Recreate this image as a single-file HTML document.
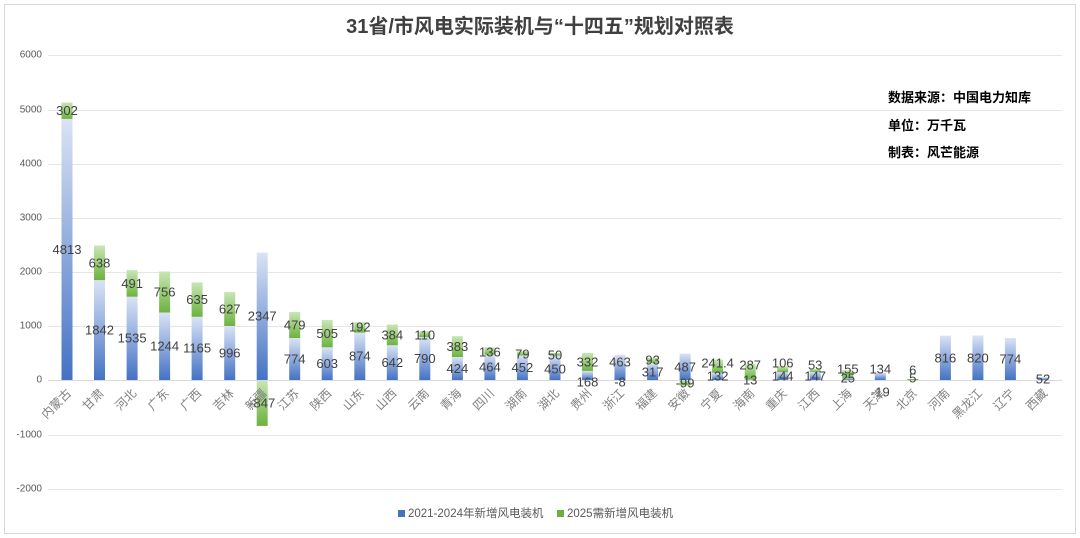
<!DOCTYPE html>
<html><head><meta charset="utf-8"><style>
body{margin:0;background:#fff;}
svg{display:block;font-family:"Liberation Sans","Noto Sans CJK SC",sans-serif;}
.v{font-size:13px;fill:#404040;text-anchor:middle;dominant-baseline:central;}
.y{font-size:10px;fill:#595959;text-anchor:end;dominant-baseline:central;}
.c{font-size:12px;fill:#7f7f7f;text-anchor:end;}
</style></head><body>
<svg width="1080" height="538" viewBox="0 0 1080 538">
<defs>
<linearGradient id="b" x1="0" y1="0" x2="0" y2="1"><stop offset="0" stop-color="#dae3f5"/><stop offset="1" stop-color="#4472c4"/></linearGradient>
<linearGradient id="g" x1="0" y1="0" x2="0" y2="1"><stop offset="0" stop-color="#c9e6b5"/><stop offset="1" stop-color="#6cb33f"/></linearGradient>
</defs>
<rect x="4.5" y="4.5" width="1071" height="529" fill="#fff" stroke="#d9d9d9"/>
<text x="540" y="33" text-anchor="middle" font-size="20" font-weight="bold" fill="#404040">31省/市风电实际装机与“十四五”规划对照表</text>
<g stroke="#e6e6e6" stroke-width="1">
<line x1="48" y1="55.5" x2="1062" y2="55.5"/><line x1="48" y1="110.5" x2="1062" y2="110.5"/><line x1="48" y1="164.5" x2="1062" y2="164.5"/><line x1="48" y1="218.5" x2="1062" y2="218.5"/><line x1="48" y1="272.5" x2="1062" y2="272.5"/><line x1="48" y1="326.5" x2="1062" y2="326.5"/><line x1="48" y1="435.5" x2="1062" y2="435.5"/><line x1="48" y1="489.5" x2="1062" y2="489.5"/>
</g>
<g class="y">
<text x="42" y="55">6000</text><text x="42" y="110">5000</text><text x="42" y="164">4000</text><text x="42" y="218">3000</text><text x="42" y="272">2000</text><text x="42" y="326">1000</text><text x="42" y="380">0</text><text x="42" y="435">-1000</text><text x="42" y="489">-2000</text>
</g>
<g>
<rect x="61.5" y="118.9" width="11" height="261.1" fill="url(#b)"/><rect x="61.5" y="102.5" width="11" height="16.4" fill="url(#g)"/>
<rect x="94" y="280.1" width="11" height="99.9" fill="url(#b)"/><rect x="94" y="245.5" width="11" height="34.6" fill="url(#g)"/>
<rect x="126.6" y="296.7" width="11" height="83.3" fill="url(#b)"/><rect x="126.6" y="270.1" width="11" height="26.6" fill="url(#g)"/>
<rect x="159.1" y="312.5" width="11" height="67.5" fill="url(#b)"/><rect x="159.1" y="271.5" width="11" height="41" fill="url(#g)"/>
<rect x="191.6" y="316.8" width="11" height="63.2" fill="url(#b)"/><rect x="191.6" y="282.4" width="11" height="34.4" fill="url(#g)"/>
<rect x="224.2" y="326" width="11" height="54" fill="url(#b)"/><rect x="224.2" y="292" width="11" height="34" fill="url(#g)"/>
<rect x="256.7" y="252.7" width="11" height="127.3" fill="url(#b)"/><rect x="256.7" y="380" width="11" height="45.9" fill="url(#g)"/>
<rect x="289.2" y="338" width="11" height="42" fill="url(#b)"/><rect x="289.2" y="312" width="11" height="26" fill="url(#g)"/>
<rect x="321.7" y="347.3" width="11" height="32.7" fill="url(#b)"/><rect x="321.7" y="319.9" width="11" height="27.4" fill="url(#g)"/>
<rect x="354.3" y="332.6" width="11" height="47.4" fill="url(#b)"/><rect x="354.3" y="322.2" width="11" height="10.4" fill="url(#g)"/>
<rect x="386.8" y="345.2" width="11" height="34.8" fill="url(#b)"/><rect x="386.8" y="324.4" width="11" height="20.8" fill="url(#g)"/>
<rect x="419.3" y="337.1" width="11" height="42.9" fill="url(#b)"/><rect x="419.3" y="331.1" width="11" height="6" fill="url(#g)"/>
<rect x="451.9" y="357" width="11" height="23" fill="url(#b)"/><rect x="451.9" y="336.2" width="11" height="20.8" fill="url(#g)"/>
<rect x="484.4" y="354.8" width="11" height="25.2" fill="url(#b)"/><rect x="484.4" y="347.4" width="11" height="7.4" fill="url(#g)"/>
<rect x="516.9" y="355.5" width="11" height="24.5" fill="url(#b)"/><rect x="516.9" y="351.2" width="11" height="4.3" fill="url(#g)"/>
<rect x="549.5" y="355.6" width="11" height="24.4" fill="url(#b)"/><rect x="549.5" y="352.9" width="11" height="2.7" fill="url(#g)"/>
<rect x="582" y="370.9" width="11" height="9.1" fill="url(#b)"/><rect x="582" y="352.9" width="11" height="18" fill="url(#g)"/>
<rect x="614.5" y="354.9" width="11" height="25.1" fill="url(#b)"/><rect x="614.5" y="380" width="11" height="0.6" fill="url(#g)"/>
<rect x="647.1" y="362.8" width="11" height="17.2" fill="url(#b)"/><rect x="647.1" y="357.8" width="11" height="5" fill="url(#g)"/>
<rect x="679.6" y="353.6" width="11" height="26.4" fill="url(#b)"/><rect x="679.6" y="380" width="11" height="5.4" fill="url(#g)"/>
<rect x="712.1" y="372.8" width="11" height="7.2" fill="url(#b)"/><rect x="712.1" y="359.7" width="11" height="13.1" fill="url(#g)"/>
<rect x="744.7" y="379.3" width="11" height="0.7" fill="url(#b)"/><rect x="744.7" y="363.7" width="11" height="15.6" fill="url(#g)"/>
<rect x="777.2" y="372.2" width="11" height="7.8" fill="url(#b)"/><rect x="777.2" y="366.4" width="11" height="5.8" fill="url(#g)"/>
<rect x="809.7" y="372" width="11" height="8" fill="url(#b)"/><rect x="809.7" y="369.1" width="11" height="2.9" fill="url(#g)"/>
<rect x="842.3" y="378.6" width="11" height="1.4" fill="url(#b)"/><rect x="842.3" y="370.2" width="11" height="8.4" fill="url(#g)"/>
<rect x="874.8" y="372.7" width="11" height="7.3" fill="url(#b)"/><rect x="874.8" y="380" width="11" height="1" fill="#6cb33f"/>
<rect x="907.3" y="379.7" width="11" height="0.3" fill="#4472c4"/><rect x="907.3" y="379" width="11" height="0.8" fill="#6cb33f"/>
<rect x="939.9" y="335.7" width="11" height="44.3" fill="url(#b)"/>
<rect x="972.4" y="335.5" width="11" height="44.5" fill="url(#b)"/>
<rect x="1004.9" y="338" width="11" height="42" fill="url(#b)"/>
<rect x="1037.5" y="377.2" width="11" height="2.8" fill="url(#b)"/>
</g>
<line x1="48" y1="380.5" x2="1062" y2="380.5" stroke="#d9d9d9"/>
<g class="v">
<text x="67" y="249.5">4813</text><text x="67" y="110.7">302</text>
<text x="99.5" y="330">1842</text><text x="99.5" y="262.8">638</text>
<text x="132.1" y="338">1535</text><text x="132.1" y="283.4">491</text>
<text x="164.6" y="346">1244</text><text x="164.6" y="292">756</text>
<text x="197.1" y="348">1165</text><text x="197.1" y="299.6">635</text>
<text x="229.7" y="353">996</text><text x="229.7" y="309">627</text>
<text x="262.2" y="316">2347</text><text x="262.2" y="403">-847</text>
<text x="294.7" y="359">774</text><text x="294.7" y="325">479</text>
<text x="327.2" y="363.6">603</text><text x="327.2" y="333.6">505</text>
<text x="359.8" y="356">874</text><text x="359.8" y="327">192</text>
<text x="392.3" y="362.6">642</text><text x="392.3" y="334.8">384</text>
<text x="424.8" y="358.5">790</text><text x="424.8" y="335">110</text>
<text x="457.4" y="368.5">424</text><text x="457.4" y="346.6">383</text>
<text x="489.9" y="367">464</text><text x="489.9" y="352">136</text>
<text x="522.4" y="367.7">452</text><text x="522.4" y="354">79</text>
<text x="555" y="369">450</text><text x="555" y="355">50</text>
<text x="587.5" y="382">168</text><text x="587.5" y="362">332</text>
<text x="620" y="362">463</text><text x="620" y="382">-8</text>
<text x="652.6" y="372">317</text><text x="652.6" y="360">93</text>
<text x="685.1" y="367">487</text><text x="685.1" y="383">-99</text>
<text x="717.6" y="376">132</text><text x="717.6" y="363">241.4</text>
<text x="750.2" y="380">13</text><text x="750.2" y="365">287</text>
<text x="782.7" y="376">144</text><text x="782.7" y="363">106</text>
<text x="815.2" y="376">147</text><text x="815.2" y="365">53</text>
<text x="847.8" y="378">25</text><text x="847.8" y="369">155</text>
<text x="880.3" y="369">134</text><text x="880.3" y="392">-19</text>
<text x="912.8" y="378">5</text><text x="912.8" y="370">6</text>
<text x="945.4" y="358">816</text>
<text x="977.9" y="358">820</text>
<text x="1010.4" y="359">774</text>
<text x="1043" y="379">52</text>
</g>
<g class="c">
<text transform="translate(72,394) rotate(-45)">内蒙古</text>
<text transform="translate(104.5,394) rotate(-45)">甘肃</text>
<text transform="translate(137.1,394) rotate(-45)">河北</text>
<text transform="translate(169.6,394) rotate(-45)">广东</text>
<text transform="translate(202.1,394) rotate(-45)">广西</text>
<text transform="translate(234.7,394) rotate(-45)">吉林</text>
<text transform="translate(267.2,394) rotate(-45)">新疆</text>
<text transform="translate(299.7,394) rotate(-45)">江苏</text>
<text transform="translate(332.2,394) rotate(-45)">陕西</text>
<text transform="translate(364.8,394) rotate(-45)">山东</text>
<text transform="translate(397.3,394) rotate(-45)">山西</text>
<text transform="translate(429.8,394) rotate(-45)">云南</text>
<text transform="translate(462.4,394) rotate(-45)">青海</text>
<text transform="translate(494.9,394) rotate(-45)">四川</text>
<text transform="translate(527.4,394) rotate(-45)">湖南</text>
<text transform="translate(560,394) rotate(-45)">湖北</text>
<text transform="translate(592.5,394) rotate(-45)">贵州</text>
<text transform="translate(625,394) rotate(-45)">浙江</text>
<text transform="translate(657.6,394) rotate(-45)">福建</text>
<text transform="translate(690.1,394) rotate(-45)">安徽</text>
<text transform="translate(722.6,394) rotate(-45)">宁夏</text>
<text transform="translate(755.2,394) rotate(-45)">海南</text>
<text transform="translate(787.7,394) rotate(-45)">重庆</text>
<text transform="translate(820.2,394) rotate(-45)">江西</text>
<text transform="translate(852.8,394) rotate(-45)">上海</text>
<text transform="translate(885.3,394) rotate(-45)">天津</text>
<text transform="translate(917.8,394) rotate(-45)">北京</text>
<text transform="translate(950.4,394) rotate(-45)">河南</text>
<text transform="translate(982.9,394) rotate(-45)">黑龙江</text>
<text transform="translate(1015.4,394) rotate(-45)">辽宁</text>
<text transform="translate(1048,394) rotate(-45)">西藏</text>
</g>
<g font-size="13" fill="#000" font-weight="bold">
<text x="888" y="102">数据来源：中国电力知库</text>
<text x="888" y="130">单位：万千瓦</text>
<text x="888" y="157">制表：风芒能源</text>
</g>
<g font-size="11.5" fill="#595959">
<rect x="398" y="510" width="7" height="7" fill="#4472c4"/>
<text x="408" y="517">2021-2024年新增风电装机</text>
<rect x="557" y="510" width="7" height="7" fill="#70ad47"/>
<text x="567" y="517">2025需新增风电装机</text>
</g>
</svg>
</body></html>
